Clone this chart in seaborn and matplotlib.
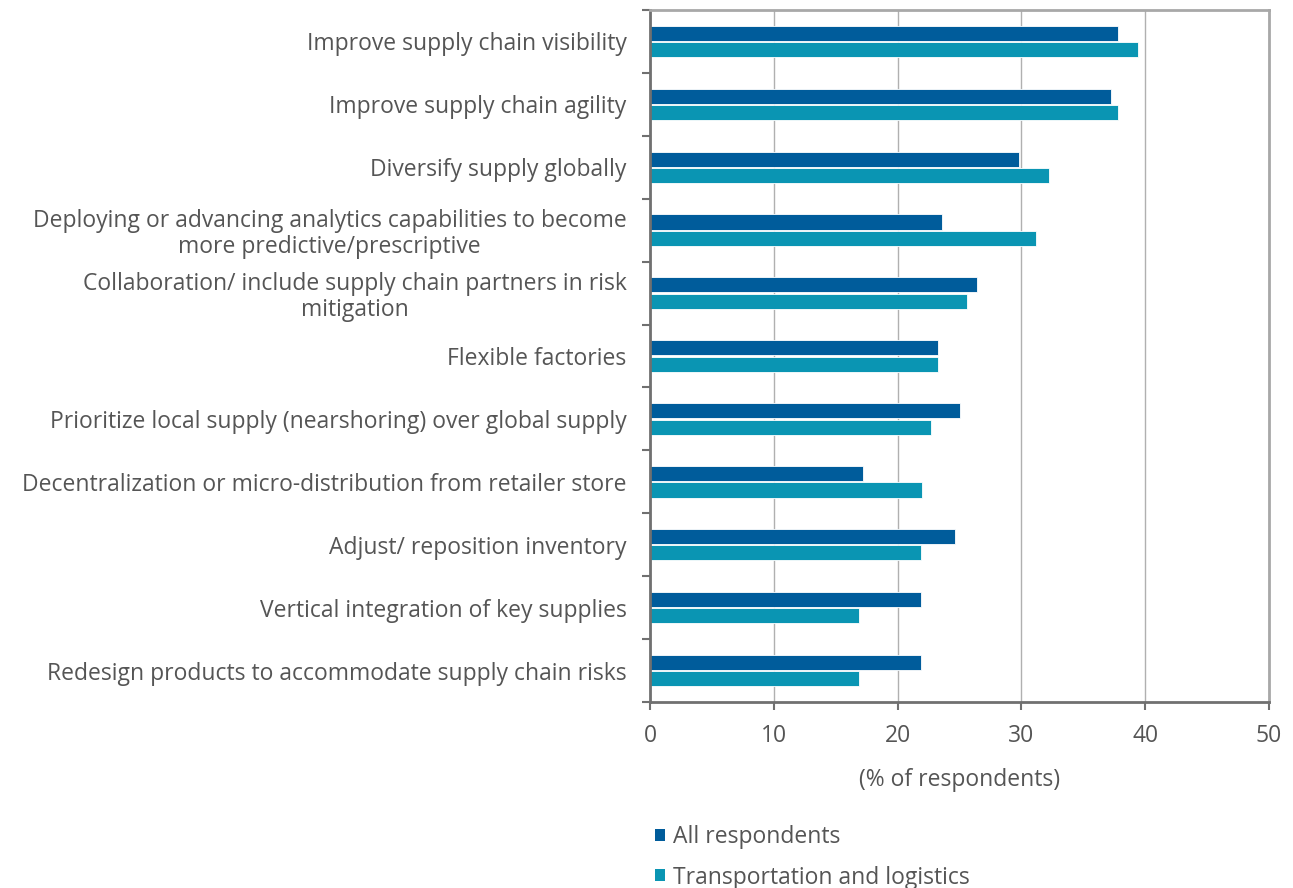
import matplotlib
matplotlib.use("Agg")
import matplotlib.pyplot as plt
import seaborn as sns
import pandas as pd
import numpy as np
from matplotlib.patches import Patch

categories = [
    "Improve supply chain visibility",
    "Improve supply chain agility",
    "Diversify supply globally",
    "Deploying or advancing analytics capabilities to become\nmore predictive/prescriptive",
    "Collaboration/ include supply chain partners in risk\nmitigation",
    "Flexible factories",
    "Prioritize local supply (nearshoring) over global supply",
    "Decentralization or micro-distribution from retailer store",
    "Adjust/ reposition inventory",
    "Vertical integration of key supplies",
    "Redesign products to accommodate supply chain risks",
]
all_respondents = [37.8, 37.2, 29.8, 23.6, 26.4, 23.3, 25.0, 17.2, 24.6, 21.9, 21.9]
transport_logistics = [39.4, 37.8, 32.2, 31.2, 25.6, 23.3, 22.7, 22.0, 21.9, 16.9, 16.9]
series_names = ["All respondents", "Transportation and logistics"]
x_ticks = [0, 10, 20, 30, 40, 50]
x_label = "(% of respondents)"

colors = ["#005C9B", "#0A95B3"]
text_color = "#555555"

df = pd.DataFrame({
    "category": categories * 2,
    "value": all_respondents + transport_logistics,
    "series": [series_names[0]] * len(categories) + [series_names[1]] * len(categories),
})

sns.set_theme(style="white")
plt.rcParams["font.family"] = ["Open Sans", "DejaVu Sans"]

fig = plt.figure(figsize=(12.93, 8.88), dpi=100)
ax = fig.add_axes([650 / 1293, 1 - 702 / 888, (1269 - 650) / 1293, (702 - 10) / 888])

sns.barplot(data=df, y="category", x="value", hue="series", order=categories,
            hue_order=series_names, palette=colors, saturation=1, orient="h", width=0.52,
            gap=0.08, edgecolor="white", linewidth=0.6, legend=False, ax=ax)

ax.set_xlim(0, 50)
ax.set_xticks(x_ticks)
ax.set_ylim(len(categories) - 0.5, -0.5)
ax.grid(axis="x", color="#b0b0b0", linewidth=1)
ax.set_axisbelow(True)

ax.set_xlabel(x_label, fontsize=16.5, color=text_color, labelpad=14)
ax.set_ylabel("")

ax.tick_params(axis="x", which="major", length=6, width=1.5, color="#707070",
               labelsize=16.5, labelcolor=text_color, pad=10, direction="out", bottom=True)
ax.tick_params(axis="y", which="major", length=0, labelsize=16.5, labelcolor=text_color, pad=17)
ax.set_yticks(np.arange(-0.5, len(categories), 1.0), minor=True)
ax.tick_params(axis="y", which="minor", length=6, width=1.5, color="#707070", left=True, direction="out")
for lbl in ax.get_yticklabels():
    lbl.set_multialignment("center")
    lbl.set_linespacing(1.1)

for side in ["left", "bottom"]:
    ax.spines[side].set_color("#707070")
    ax.spines[side].set_linewidth(2)
for side in ["top", "right"]:
    ax.spines[side].set_color("#a8a8a8")
    ax.spines[side].set_linewidth(2)

handles = [Patch(facecolor=c, edgecolor="none") for c in colors]
fig.legend(handles, series_names, loc="upper left", bbox_to_anchor=(655 / 1293, 1 - 825 / 888),
           frameon=False, fontsize=16.5, labelcolor=text_color, handlelength=0.42,
           handleheight=0.42, handletextpad=0.35, labelspacing=0.72, borderpad=0, borderaxespad=0)

fig.savefig("out.png", dpi=100)
